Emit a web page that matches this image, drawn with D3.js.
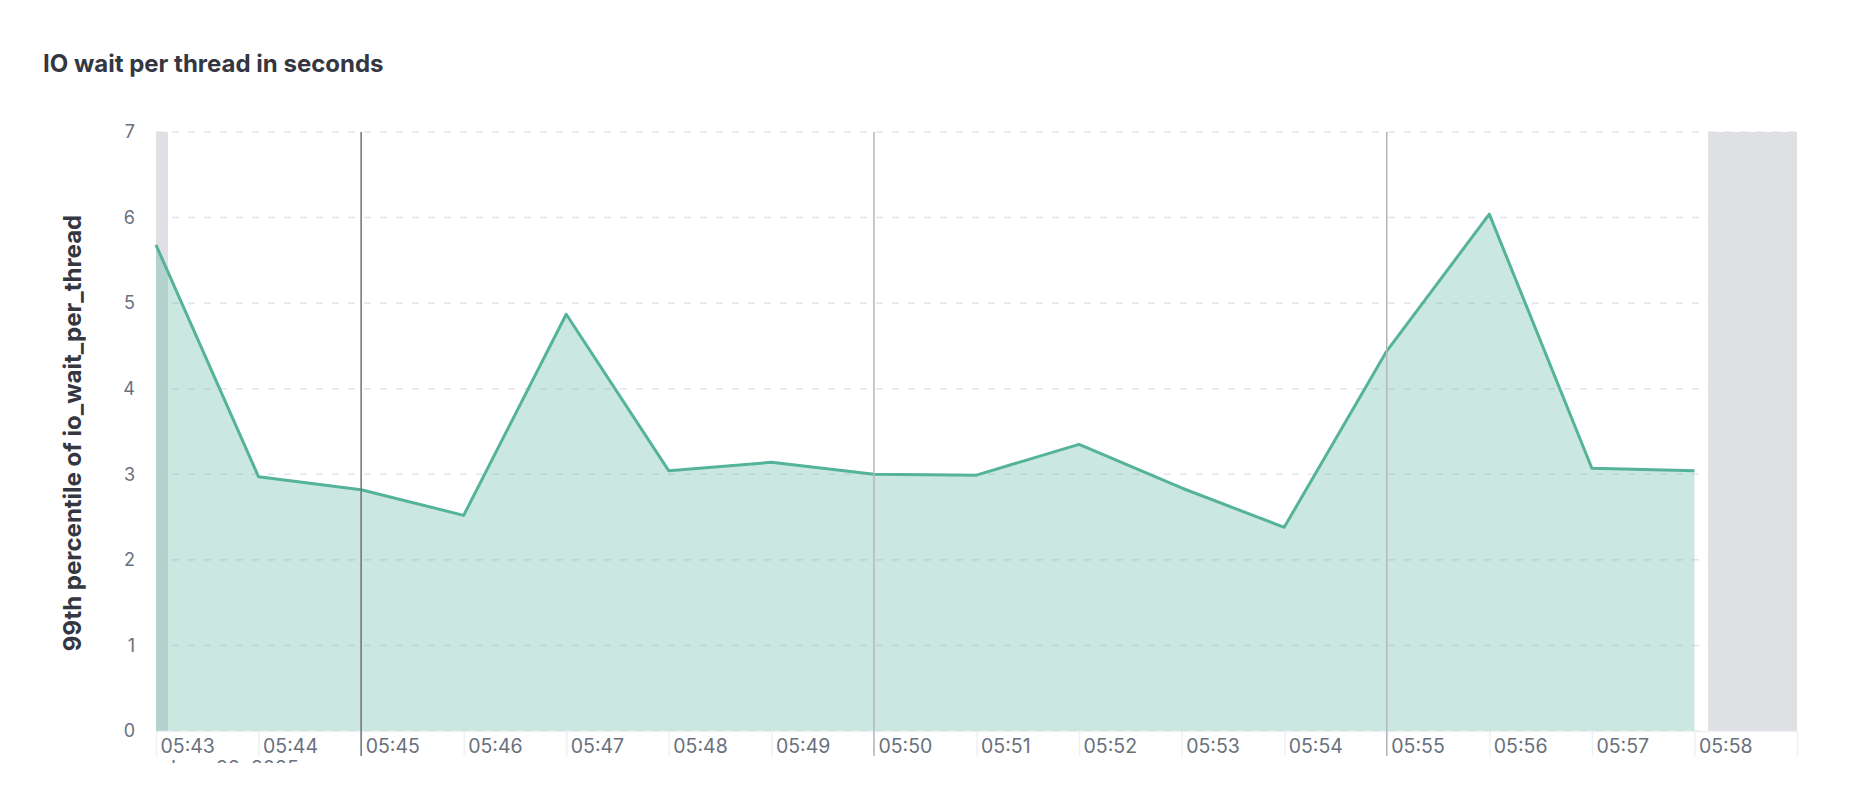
<!DOCTYPE html>
<html>
<head>
<meta charset="utf-8">
<script src="https://cdn.jsdelivr.net/npm/d3@7"></script>
<style>
  html, body { margin: 0; padding: 0; background: #fff; }
  svg { display: block; font-family: Inter, "Noto Sans", sans-serif; }
</style>
</head>
<body>
<svg id="chart" width="1854" height="802"></svg>
<script>
// ---- data ----
const title = "IO wait per thread in seconds";
const yTitle = "99th percentile of io_wait_per_thread";
const dateLabel = "June 22, 2025";
const times = ["05:43","05:44","05:45","05:46","05:47","05:48","05:49","05:50",
               "05:51","05:52","05:53","05:54","05:55","05:56","05:57","05:58"];
const values = [5.68, 2.97, 2.82, 2.52, 4.87, 3.04, 3.14, 3.00,
                2.99, 3.35, 2.84, 2.38, 4.44, 6.04, 3.07, 3.04];
const yTicks = [0, 1, 2, 3, 4, 5, 6, 7];
const domainStart = "05:43:00";
const domainEnd = "05:59:00";
const outOfRange = [["05:43:00", "05:43:07"], ["05:58:08", "05:59:00"]];
const markers = [["05:45", "dark"], ["05:50", "light"], ["05:55", "light"]];

// ---- layout ----
const svg = d3.select("#chart");
const pLeft = 156, pRight = 1797, pTop = 132, pBottom = 731;
const parse = s => d3.timeParse(s.length > 5 ? "%H:%M:%S" : "%H:%M")(s);

const x = d3.scaleTime().domain([parse(domainStart), parse(domainEnd)]).range([pLeft, pRight]);
const y = d3.scaleLinear().domain([0, 7]).range([pBottom, pTop]);

const data = times.map((t, i) => ({ t: parse(t), v: values[i] }));

// title
svg.append("text").attr("x", 43).attr("y", 72)
  .attr("font-size", 24).attr("font-weight", 700).attr("fill", "#343741")
  .text(title);

// y axis title
svg.append("text")
  .attr("transform", `translate(81,433) rotate(-90)`)
  .attr("text-anchor", "middle").attr("font-size", 24).attr("font-weight", 700)
  .attr("fill", "#343741").text(yTitle);

// gridlines
svg.append("g").selectAll("line").data(yTicks).join("line")
  .attr("x1", pLeft).attr("x2", pRight)
  .attr("y1", d => y(d)).attr("y2", d => y(d))
  .attr("stroke", "#e1e4ec").attr("stroke-width", 1.5).attr("stroke-dasharray", "7,9");

// out of range bands
svg.append("g").selectAll("rect").data(outOfRange).join("rect")
  .attr("x", d => x(parse(d[0]))).attr("width", d => x(parse(d[1])) - x(parse(d[0])))
  .attr("y", pTop).attr("height", pBottom - pTop)
  .attr("fill", "#dfe0e4");

// area
svg.append("path").datum(data)
  .attr("d", d3.area().x(d => x(d.t)).y0(y(0)).y1(d => y(d.v)))
  .attr("fill", "#54b399").attr("fill-opacity", 0.3);

// line
svg.append("path").datum(data)
  .attr("d", d3.line().x(d => x(d.t)).y(d => y(d.v)))
  .attr("fill", "none").attr("stroke", "#54b399").attr("stroke-width", 3)
  .attr("stroke-linejoin", "round");

// x axis
const xTickVals = times.map(parse).concat([parse(domainEnd)]);
const xAxis = d3.axisBottom(x).tickValues(xTickVals)
  .tickFormat((d, i) => i < times.length ? d3.timeFormat("%H:%M")(d) : "")
  .tickSize(25).tickSizeOuter(0);
const gx = svg.append("g").attr("transform", `translate(0,${pBottom})`).call(xAxis);
gx.select(".domain").attr("stroke", "#eef0f3").attr("stroke-width", 1.5);
gx.selectAll(".tick line").attr("stroke", "#eef0f3").attr("stroke-width", 1.5);
gx.selectAll(".tick text").attr("text-anchor", "start").attr("x", 4).attr("y", 8)
  .attr("font-size", 19.5).attr("fill", "#69707d").attr("font-family", "Inter, sans-serif");

// marker lines
svg.append("g").selectAll("line").data(markers).join("line")
  .attr("x1", d => x(parse(d[0]))).attr("x2", d => x(parse(d[0])))
  .attr("y1", pTop).attr("y2", pBottom + 25)
  .attr("stroke", d => d[1] === "dark" ? "#6f7176" : "#b4b6ba").attr("stroke-width", 1.5);

// y axis labels
const yAxis = d3.axisLeft(y).tickValues(yTicks).tickFormat(d3.format("d")).tickSize(0).tickPadding(21);
const gy = svg.append("g").attr("transform", `translate(${pLeft},0)`).call(yAxis);
gy.select(".domain").remove();
gy.selectAll(".tick text").attr("font-size", 18).attr("fill", "#69707d")
  .attr("font-family", "Inter, sans-serif");

// clipped date label (only its top edge peeks out, as in the reference)
svg.append("clipPath").attr("id", "dateclip")
  .append("rect").attr("x", 0).attr("y", 759).attr("width", 1854).attr("height", 4);
svg.append("text").attr("clip-path", "url(#dateclip)")
  .attr("x", x(parse(times[0])) + 9).attr("y", 775)
  .attr("font-size", 19.5).attr("fill", "#69707d").text(dateLabel);
</script>
</body>
</html>
